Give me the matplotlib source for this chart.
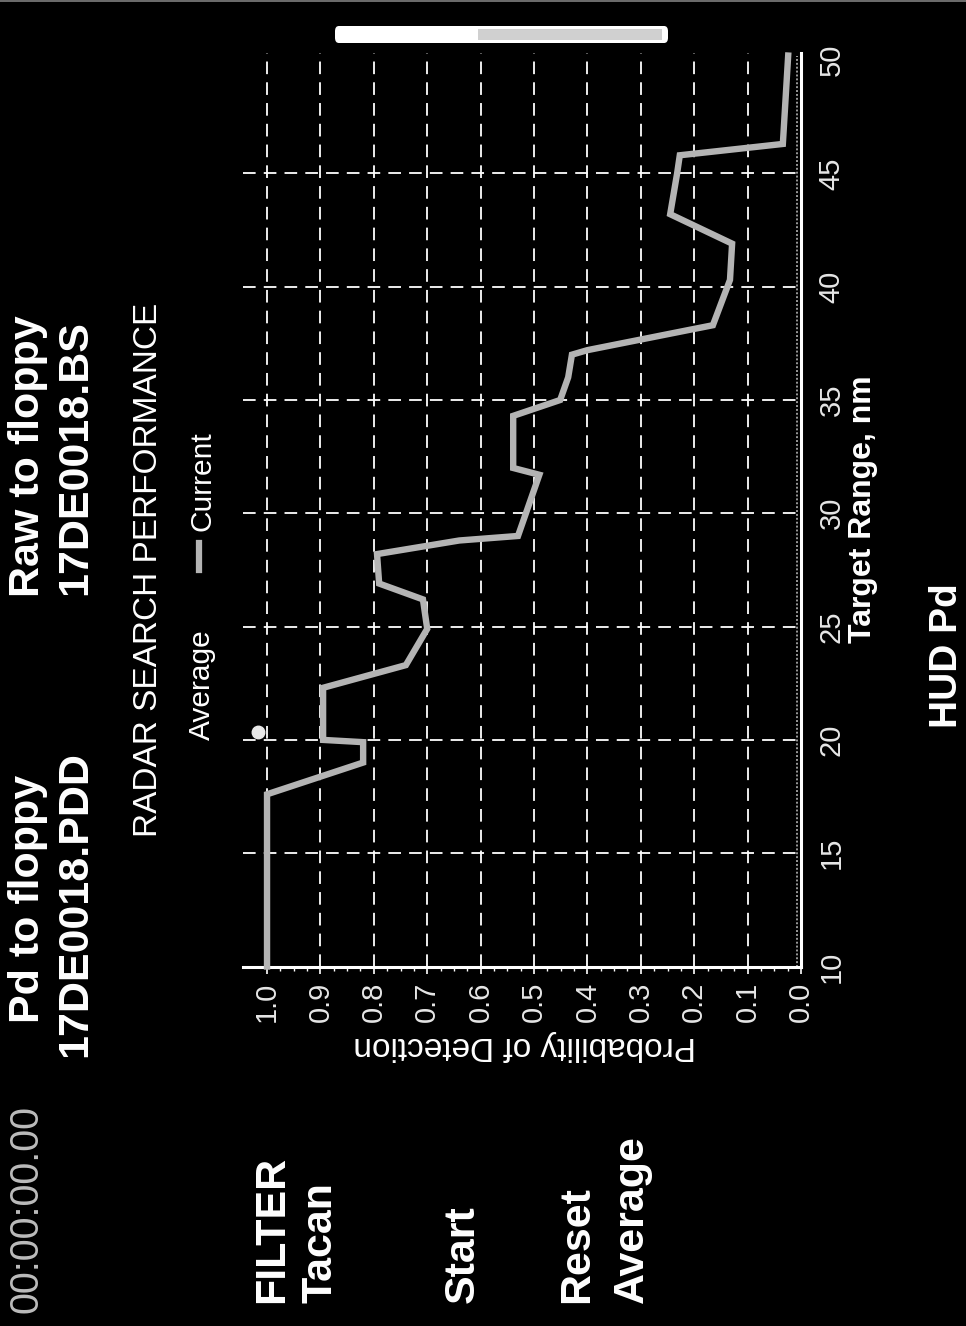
import matplotlib
matplotlib.use('Agg')
import matplotlib.pyplot as plt
from matplotlib import font_manager as fm
from matplotlib.lines import Line2D
from matplotlib.patches import Rectangle, FancyBboxPatch
import numpy as np

# ---------------- data ----------------
range_nm = [10, 17.6, 19.0, 19.9, 20.0, 22.3, 23.3, 24.9, 26.2, 26.9, 28.2, 28.8, 29.0,
            31.7, 32.0, 34.3, 35.0, 36.0, 37.0, 37.2, 38.1, 38.3, 40.3, 41.9, 43.2,
            45.0, 45.8, 46.3, 50.2]
pd_current = [1.0, 1.0, 0.82, 0.82, 0.895, 0.895, 0.74, 0.70, 0.708, 0.79, 0.794, 0.64, 0.53,
              0.49, 0.539, 0.539, 0.451, 0.436, 0.429, 0.40, 0.208, 0.165, 0.133, 0.129, 0.245,
              0.232, 0.227, 0.034, 0.024]
avg_range = [10, 50.2]
avg_pd = [0.008, 0.008]
avg_marker_range = [20.35]
avg_marker_pd = [1.017]

prob_ticks = [1.0, 0.9, 0.8, 0.7, 0.6, 0.5, 0.4, 0.3, 0.2, 0.1, 0.0]
prob_labels = ['1.0', '0.9', '0.8', '0.7', '0.6', '0.5', '0.4', '0.3', '0.2', '0.1', '0.0']
range_ticks = [10, 15, 20, 25, 30, 35, 40, 45, 50]
range_labels = ['10', '15', '20', '25', '30', '35', '40', '45', '50']
prob_grid = [1.0, 0.9, 0.8, 0.7, 0.6, 0.5, 0.4, 0.3, 0.2, 0.1]
range_grid = [15, 20, 25, 30, 35, 40, 45]

# ---------------- fonts ----------------
def have(name):
    try:
        fm.findfont(fm.FontProperties(family=name), fallback_to_default=False)
        return True
    except Exception:
        return False

SANS = 'Liberation Sans' if have('Liberation Sans') else 'DejaVu Sans'
NARROW = 'Liberation Sans Narrow' if have('Liberation Sans Narrow') else SANS

W, H = 966, 1326
fig = plt.figure(figsize=(W / 100, H / 100), dpi=100, facecolor='black')

def fx(x):
    return x / W

def fy(y):
    return 1 - y / H

# axes: probability horizontal (inverted), range vertical
y0, y1 = 966.5, 53.3
ax = fig.add_axes([fx(243), fy(y0), fx(801) - fx(243), (y0 - y1) / H])
ax.set_facecolor('black')
ax.set_xlim(1.045, 0.0)
ax.set_ylim(10, 50.3)

for s in ['top', 'left']:
    ax.spines[s].set_visible(False)
for s in ['bottom', 'right']:
    ax.spines[s].set_color('white')
    ax.spines[s].set_linewidth(2.2)

grid_kw = dict(color='white', lw=1.3, dashes=(7, 4.5), zorder=1)
for p in prob_grid:
    ax.axvline(p, **grid_kw)
for r in range_grid:
    ax.axhline(r, **grid_kw)

# average series
ax.plot(avg_pd, avg_range, color='#9a9a9a', lw=1.4, ls=(0, (1, 1)), zorder=2)
ax.plot(avg_marker_pd, avg_marker_range, 'o', color='#e8e8e8', ms=9, clip_on=False, zorder=4)
# current series
ax.plot(pd_current, range_nm, color='#b4b4b4', lw=4.6, solid_joinstyle='miter', zorder=3, clip_on=False)

ax.set_xticks(prob_ticks)
ax.set_xticklabels(prob_labels, rotation=90, family=NARROW, fontsize=21, color='#e6e6e6')
ax.set_xticks(np.arange(0, 1.0001, 0.025), minor=True)
ax.tick_params(axis='x', which='major', direction='out', length=5, width=1.2, color='white', pad=6)
ax.tick_params(axis='x', which='minor', direction='out', length=3, width=1.0, color='white')

ax.yaxis.tick_right()
ax.set_yticks(range_ticks)
ax.set_yticklabels(range_labels, rotation=90, family=NARROW, fontsize=21, color='#e6e6e6', va='center')
ax.tick_params(axis='y', which='both', length=0, pad=12)

# ---------------- texts ----------------
bold = dict(family=SANS, fontweight='bold', color='white', rotation=90)
BS = 31

fig.text(fx(27), fy(1313), '00:00:00.00', family=SANS, color='#bcbcbc', rotation=90,
         fontsize=28.5, ha='center', va='bottom')
fig.text(fx(28), fy(1023), 'Pd to floppy', fontsize=BS, ha='center', va='bottom', **bold)
fig.text(fx(75), fy(1057), '17DE0018.PDD', fontsize=BS, ha='center', va='bottom', **bold)
fig.text(fx(28), fy(597), 'Raw to floppy', fontsize=BS, ha='center', va='bottom', **bold)
fig.text(fx(75), fy(595), '17DE0018.BS', fontsize=BS, ha='center', va='bottom', **bold)

fig.text(fx(149), fy(570), 'RADAR SEARCH PERFORMANCE', family=SANS, color='white', rotation=90,
         fontsize=24, ha='center', va='center')
fig.text(fx(202), fy(740), 'Average', family=SANS, color='white', rotation=90,
         fontsize=21.5, ha='center', va='bottom')
fig.text(fx(202), fy(531), 'Current', family=SANS, color='white', rotation=90,
         fontsize=21.5, ha='center', va='bottom')
fig.add_artist(Line2D([fx(199), fx(199)], [fy(570), fy(543)], color='#b4b4b4', lw=4.5))

fig.text(fx(525), fy(1045), 'Probability of Detection', family=SANS, color='white', rotation=180,
         fontsize=24, ha='center', va='center')
fig.text(fx(863), fy(509), 'Target Range, nm', family=SANS, color='white', rotation=90,
         fontsize=23, fontweight='bold', ha='center', va='center')
fig.text(fx(947), fy(656), 'HUD Pd', fontsize=28, ha='center', va='center', **bold)

for label, xc in [('FILTER', 272), ('Tacan', 320), ('Start', 463), ('Reset', 577), ('Average', 632)]:
    fig.text(fx(xc), fy(1303), label, fontsize=BS, ha='center', va='bottom', **bold)

# top white bar (scroll indicator)
fig.add_artist(FancyBboxPatch((fx(335), fy(43)), fx(668) - fx(335), (43 - 26) / H,
                              boxstyle='round,pad=0,rounding_size=0.004',
                              transform=fig.transFigure, facecolor='white', edgecolor='none'))
fig.add_artist(Rectangle((fx(478), fy(40)), fx(662) - fx(478), (40 - 29) / H,
                         transform=fig.transFigure, facecolor='#d0d0d0', edgecolor='none'))
fig.add_artist(Line2D([0, 1], [fy(1), fy(1)], color='#808080', lw=1.2))

fig.savefig('out.png', dpi=100, facecolor='black')
